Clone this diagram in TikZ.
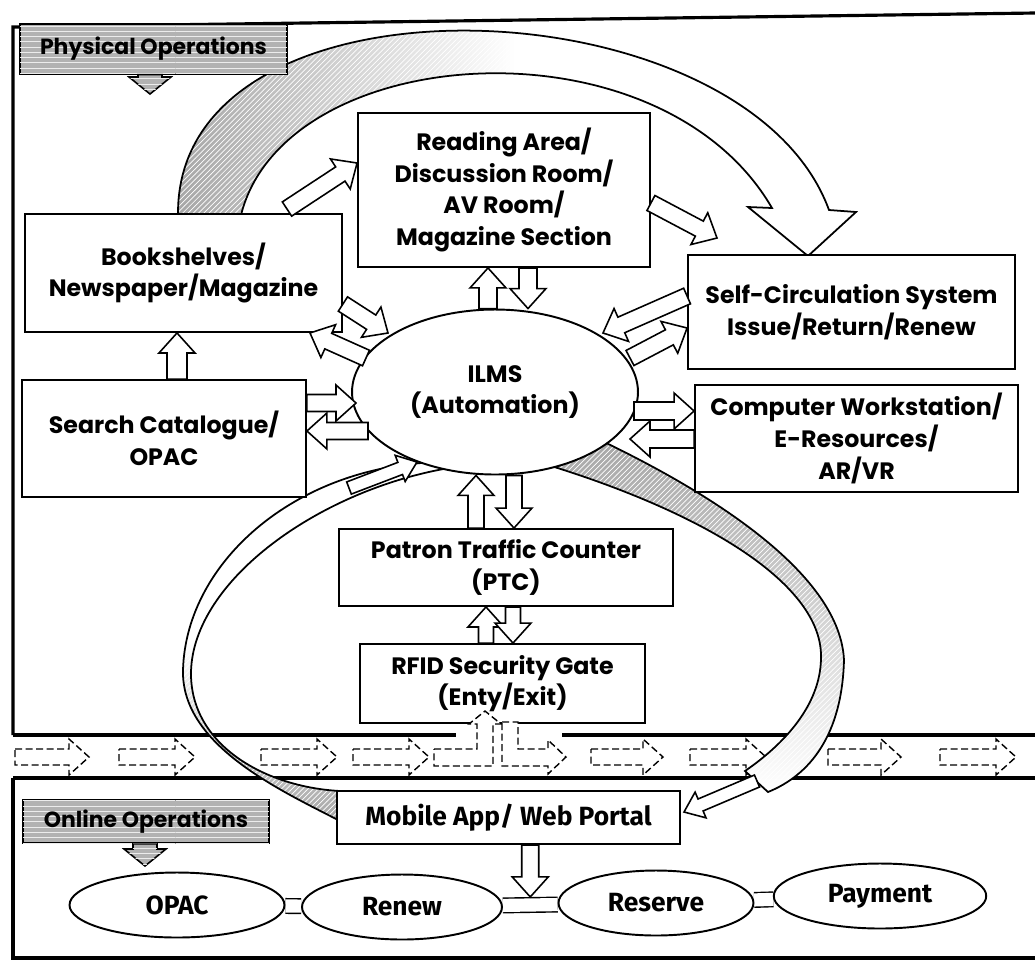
\documentclass[tikz,border=0pt]{standalone}
\usepackage{fontspec}
\setmainfont{Poppins}
\newfontfamily\narrowfont{Fira Sans}
\usetikzlibrary{calc}
\usetikzlibrary{shapes.geometric}
\usetikzlibrary{patterns}
\usetikzlibrary{backgrounds}

\newcommand\headlen{0.4cm}
\newcommand\headwid{0.36cm}
% block arrow: [style]{from}{to}{half shaft width}
\newcommand\barrow[4][]{%
 \draw[blockarrow,#1] ($#2!#4!90:#3$) -- ($#3!\headlen!#2!#4!-90:#2$)
  -- ($#3!\headlen!#2!\headwid!-90:#2$) -- #3 -- ($#3!\headlen!#2!\headwid!90:#2$)
  -- ($#3!\headlen!#2!#4!90:#2$) -- ($#2!#4!-90:#3$) -- cycle;}

\begin{document}
\begin{tikzpicture}[x=0.02cm, y=-0.02cm,
  box/.style={draw, line width=1.1pt, fill=white, inner sep=0pt, align=center,
    font=\bfseries\fontsize{13.5}{18}\selectfont},
  oval/.style={draw, ellipse, line width=1.1pt, fill=white, inner sep=0pt, align=center,
    font=\narrowfont\bfseries\fontsize{15}{18}\selectfont},
  blockarrow/.style={draw, fill=white, line width=0.9pt, line join=miter},
  flowarrow/.style={blockarrow, line width=0.8pt, dash pattern=on 4pt off 2pt},
  banner/.style={draw, line width=0.8pt, fill=gray!60,
    postaction={pattern=horizontal lines, pattern color=gray!15},
    inner sep=0pt, font=\bfseries\fontsize{12.5}{14}\selectfont},
  bannerarrow/.style={fill=gray!60, postaction={pattern=horizontal lines, pattern color=gray!15}},
  hatch/.style={postaction={pattern=north east lines, pattern color=white},
    postaction={draw, line width=1pt, line join=miter}},
  link/.style={line width=0.8pt, double=white, double distance=7.5pt},
  bandline/.style={line width=2.2pt}]

\useasboundingbox (0,0) rectangle (1035,965);

% frames and the flow band
\draw[line width=1.8pt] (13,735) -- (13,27) -- (1035,13);
\draw[bandline] (13,735) -- (456,735) (562,735) -- (1035,735);
\draw[bandline] (13,778) -- (1035,778);
\draw[line width=2pt] (13,778) -- (13,958) -- (1035,958);
\foreach \a/\b in {15/89, 119/195, 261/337, 353/429, 591/663, 690/766, 828/901, 940/1016}
  {\barrow[flowarrow]{(\a,757)}{(\b,757)}{0.16cm}}

% big arc over the top
\path[shade, left color=gray!70, right color=white, middle color=white, hatch]
  (178,215) .. controls (175,-40) and (745,-20) .. (829,210)
  -- (856,212) -- (808,256) -- (748,207) -- (772,208)
  .. controls (660,15) and (285,40) .. (241,215) -- cycle;

% loop ILMS -> mobile
\path[shade, top color=gray!70, bottom color=white, hatch]
  (600,440) .. controls (715,495) and (840,575) .. (844,660)
  .. controls (842,735) and (810,775) .. (768,792)
  -- (745,771)
  .. controls (790,740) and (822,700) .. (821,655)
  .. controls (820,585) and (710,515) .. (548,465) -- cycle;

% loop mobile -> ILMS
\path[shade, top color=white, bottom color=gray!70, middle color=white, hatch]
  (340,821) .. controls (280,790) and (181,745) .. (183,670)
  .. controls (186,560) and (300,462) .. (447,462)
  -- (449,468)
  .. controls (320,490) and (193,580) .. (191,672)
  .. controls (190,745) and (265,787) .. (340,791) -- cycle;

% nodes
\node[box, minimum width=5.84cm, minimum height=3.08cm] (read) at (504,190)
  {Reading Area/\\Discussion Room/\\AV Room/\\Magazine Section};
\node[box, minimum width=6.34cm, minimum height=2.36cm] (books) at (183.5,273)
  {Bookshelves/\\Newspaper/Magazine};
\node[box, minimum width=5.68cm, minimum height=2.34cm] (search) at (164,438.5)
  {Search Catalogue/\\OPAC};
\node[box, minimum width=6.54cm, minimum height=2.28cm] (selfc) at (851.5,312)
  {Self-Circulation System\\Issue/Return/Renew};
\node[box, minimum width=6.46cm, minimum height=2.14cm] (comp) at (856.5,438.5)
  {Computer Workstation/\\E-Resources/\\AR/VR};
\node[box, minimum width=6.68cm, minimum height=1.54cm] (ptc) at (506,567.5)
  {Patron Traffic Counter\\(PTC)};
\node[box, minimum width=5.7cm, minimum height=1.58cm] (rfid) at (502.5,683.5)
  {RFID Security Gate\\(Enty/Exit)};
\node[box, minimum width=6.86cm, minimum height=1.06cm,
  font=\narrowfont\bfseries\fontsize{15}{18}\selectfont] (mobile) at (508.5,817.5)
  {Mobile App/ Web Portal};
\node[oval, minimum width=5.72cm, minimum height=3.3cm,
  font=\bfseries\fontsize{13.5}{18}\selectfont] (ilms) at (495,392) {ILMS\\(Automation)};

\node[oval, minimum width=4.3cm, minimum height=1.3cm] (opac) at (177,905) {OPAC};
\node[oval, minimum width=4.0cm, minimum height=1.3cm] (renew) at (402,907) {Renew};
\node[oval, minimum width=3.9cm, minimum height=1.3cm] (reserve) at (656,903) {Reserve};
\node[oval, minimum width=4.25cm, minimum height=1.3cm] (payment) at (880,896) {Payment};

\node[banner, minimum width=5.34cm, minimum height=1cm] (phys) at (153.5,49) {Physical Operations};
\node[banner, minimum width=4.92cm, minimum height=0.86cm] (online) at (146,821.5) {Online Operations};

\begin{scope}[on background layer]
\draw[link] (opac) -- (renew);
\draw[link] (renew) -- (reserve);
\draw[link] (reserve) -- (payment);
\end{scope}

% free ends
\coordinate (bk-rd) at (287,209);
\coordinate (rd-sc) at (717,238);
\coordinate (bk-il) at (388,333);
\coordinate (il-bk) at (366,358);
\coordinate (sc-il) at (603,333);
\coordinate (il-sc) at (630,358);
\coordinate (se-il) at (356,403);
\coordinate (il-se) at (368,431);
\coordinate (il-cw) at (634,411);
\coordinate (cw-il) at (630,439);
\coordinate (lp1) at (349,488);
\coordinate (lp2) at (417,462);
\coordinate (rp1) at (757,781);
\coordinate (rp2) at (684,812);
\coordinate (lk) at ($(renew.east)!0.5!(reserve.west)$);
\coordinate (lktop) at ([yshift=4.6pt]lk);

% block arrows
\barrow{(bk-rd)}{(read.west |- 0,163)}{0.17cm}
\barrow{(read.east |- 0,203)}{(rd-sc)}{0.17cm}
\barrow{(ilms.north -| 488,0)}{(read.south -| 488,0)}{0.18cm}
\barrow{(read.south -| 528,0)}{(ilms.north -| 528,0)}{0.18cm}
\barrow{(books.east |- 0,304)}{(bk-il)}{0.17cm}
\barrow{(il-bk)}{(books.south -| 310,0)}{0.17cm}
\barrow{(selfc.west |- 0,296)}{(sc-il)}{0.17cm}
\barrow{(il-sc)}{(selfc.west |- 0,328)}{0.17cm}
\barrow{(search.east |- 0,403)}{(se-il)}{0.17cm}
\barrow{(il-se)}{(search.east |- 0,431)}{0.17cm}
\barrow{(il-cw)}{(comp.west |- 0,411)}{0.18cm}
\barrow{(comp.west |- 0,439)}{(cw-il)}{0.18cm}
\barrow{(search.north -| 177,0)}{(books.south -| 177,0)}{0.2cm}
\barrow{(ptc.north -| 476,0)}{(ilms.south -| 476,0)}{0.16cm}
\barrow{(ilms.south -| 514,0)}{(ptc.north -| 514,0)}{0.16cm}
\barrow{(rfid.north -| 486,0)}{(ptc.south -| 486,0)}{0.15cm}
\barrow{(ptc.south -| 513,0)}{(rfid.north -| 513,0)}{0.15cm}
\barrow{(mobile.south -| lk)}{(lktop)}{0.17cm}
{\renewcommand\headwid{0.28cm}\renewcommand\headlen{0.36cm}
 \barrow{(lp1)}{(lp2)}{0.13cm}
 \barrow{(rp1)}{(rp2)}{0.13cm}}
{\renewcommand\headwid{0.42cm}\renewcommand\headlen{0.34cm}
 \barrow[bannerarrow]{(phys.south -| 150,0)}{(150,94)}{0.24cm}
 \barrow[bannerarrow]{(online.south -| 145,0)}{(145,866)}{0.24cm}}

% entry / exit through the gate
\draw[flowarrow] (434,749) -- (477,749) -- (477,724) -- (469,724) -- (485,711)
  -- (501,724) -- (493,724) -- (493,766) -- (434,766) -- cycle;
\draw[flowarrow] (502,722) -- (518,722) -- (518,749) -- (548,749) -- (548,740)
  -- (566,757) -- (548,774) -- (548,766) -- (502,766) -- cycle;
\end{tikzpicture}
\end{document}
